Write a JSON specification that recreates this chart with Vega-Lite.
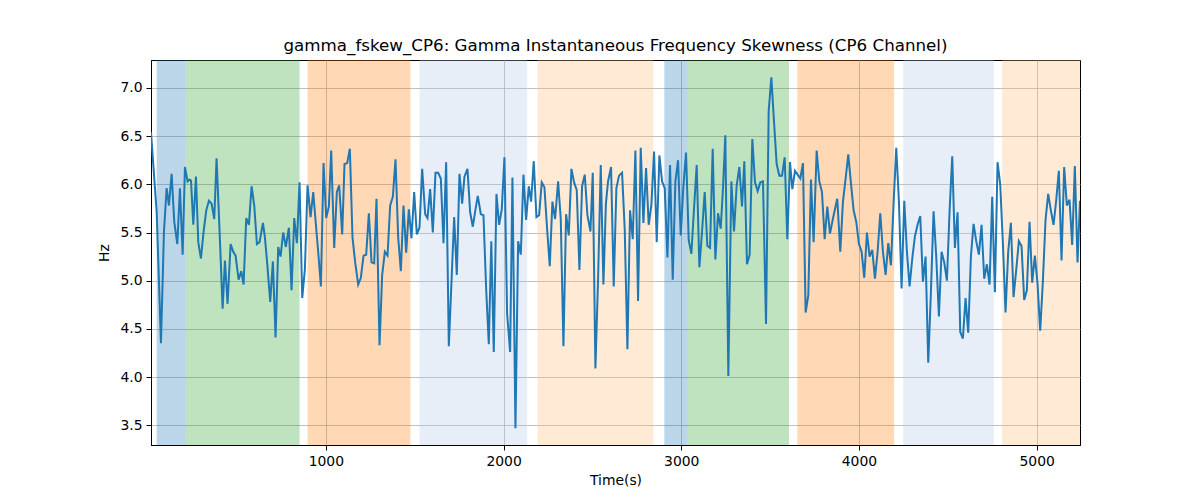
{
  "$schema": "https://vega.github.io/schema/vega-lite/v6.json",
  "width": 929,
  "height": 385,
  "autosize": {"type": "none"},
  "padding": {"left": 151, "top": 60, "right": 120, "bottom": 55},
  "background": "white",
  "title": {"text": "gamma_fskew_CP6: Gamma Instantaneous Frequency Skewness (CP6 Channel)", "font": "DejaVu Sans", "fontSize": 16.7, "fontWeight": "normal", "color": "black", "anchor": "middle", "offset": 5},
  "config": {
    "view": {"stroke": "black", "strokeWidth": 1},
    "axis": {"labelFont": "DejaVu Sans", "labelFontSize": 13.9, "labelColor": "black", "titleFont": "DejaVu Sans", "titleFontSize": 13.9, "titleFontWeight": "normal", "titleColor": "black", "tickColor": "black", "tickSize": 5, "domainColor": "black", "gridColor": "#b0b0b0", "gridWidth": 0.8, "labelPadding": 4}
  },
  "datasets": {
    "bands": [
      {"start": 48, "end": 211, "phase": "b"},
      {"start": 211, "end": 852, "phase": "g"},
      {"start": 897, "end": 1476, "phase": "o"},
      {"start": 1527, "end": 2133, "phase": "lb"},
      {"start": 2191, "end": 2843, "phase": "lo"},
      {"start": 2905, "end": 3036, "phase": "b"},
      {"start": 3036, "end": 3606, "phase": "g"},
      {"start": 3653, "end": 4198, "phase": "o"},
      {"start": 4249, "end": 4759, "phase": "lb"},
      {"start": 4806, "end": 5244, "phase": "lo"}
    ],
    "series": [
      {"t": 16, "hz": 6.54}, {"t": 48, "hz": 5.71}, {"t": 72, "hz": 4.35}, {"t": 89, "hz": 5.51}, {"t": 104, "hz": 5.96}, {"t": 117, "hz": 5.78}, {"t": 132, "hz": 6.11}, {"t": 147, "hz": 5.61}, {"t": 164, "hz": 5.38}, {"t": 179, "hz": 5.96}, {"t": 194, "hz": 5.27}, {"t": 207, "hz": 6.18}, {"t": 222, "hz": 6.03}, {"t": 233, "hz": 6.05}, {"t": 241, "hz": 6.04}, {"t": 254, "hz": 5.58}, {"t": 269, "hz": 6.08}, {"t": 282, "hz": 5.40}, {"t": 297, "hz": 5.23}, {"t": 312, "hz": 5.51}, {"t": 327, "hz": 5.73}, {"t": 342, "hz": 5.83}, {"t": 357, "hz": 5.80}, {"t": 372, "hz": 5.64}, {"t": 385, "hz": 6.27}, {"t": 402, "hz": 5.51}, {"t": 419, "hz": 4.71}, {"t": 432, "hz": 5.21}, {"t": 447, "hz": 4.76}, {"t": 464, "hz": 5.38}, {"t": 479, "hz": 5.30}, {"t": 492, "hz": 5.26}, {"t": 509, "hz": 5.01}, {"t": 524, "hz": 5.10}, {"t": 537, "hz": 4.96}, {"t": 552, "hz": 5.65}, {"t": 567, "hz": 5.58}, {"t": 582, "hz": 5.98}, {"t": 597, "hz": 5.78}, {"t": 612, "hz": 5.38}, {"t": 627, "hz": 5.40},
      {"t": 646, "hz": 5.60}, {"t": 657, "hz": 5.45}, {"t": 670, "hz": 5.18}, {"t": 687, "hz": 4.78}, {"t": 702, "hz": 5.20}, {"t": 717, "hz": 4.41}, {"t": 732, "hz": 5.35}, {"t": 745, "hz": 5.25}, {"t": 760, "hz": 5.50}, {"t": 775, "hz": 5.35}, {"t": 792, "hz": 5.55}, {"t": 807, "hz": 4.90}, {"t": 822, "hz": 5.65}, {"t": 837, "hz": 5.39}, {"t": 852, "hz": 6.02}, {"t": 867, "hz": 4.82}, {"t": 882, "hz": 5.12}, {"t": 897, "hz": 5.99}, {"t": 914, "hz": 5.66}, {"t": 929, "hz": 5.92}, {"t": 944, "hz": 5.58}, {"t": 957, "hz": 5.30}, {"t": 972, "hz": 4.94}, {"t": 987, "hz": 6.22}, {"t": 1002, "hz": 5.65}, {"t": 1017, "hz": 5.77}, {"t": 1030, "hz": 6.35}, {"t": 1047, "hz": 5.34}, {"t": 1062, "hz": 5.92}, {"t": 1075, "hz": 5.99}, {"t": 1092, "hz": 5.48}, {"t": 1105, "hz": 6.21}, {"t": 1120, "hz": 6.22}, {"t": 1135, "hz": 6.37}, {"t": 1150, "hz": 5.45}, {"t": 1165, "hz": 5.19}, {"t": 1182, "hz": 4.96}, {"t": 1197, "hz": 5.03}, {"t": 1212, "hz": 5.26}, {"t": 1227, "hz": 5.27}, {"t": 1242, "hz": 5.70}, {"t": 1257, "hz": 5.19}, {"t": 1272, "hz": 5.18},
      {"t": 1285, "hz": 5.85}, {"t": 1302, "hz": 4.33}, {"t": 1317, "hz": 5.06}, {"t": 1332, "hz": 5.30}, {"t": 1347, "hz": 5.26}, {"t": 1362, "hz": 5.78}, {"t": 1377, "hz": 5.87}, {"t": 1392, "hz": 6.26}, {"t": 1407, "hz": 5.45}, {"t": 1422, "hz": 5.10}, {"t": 1437, "hz": 5.78}, {"t": 1452, "hz": 5.29}, {"t": 1467, "hz": 5.74}, {"t": 1482, "hz": 5.44}, {"t": 1497, "hz": 5.92}, {"t": 1512, "hz": 5.48}, {"t": 1527, "hz": 5.55}, {"t": 1542, "hz": 6.16}, {"t": 1559, "hz": 5.69}, {"t": 1572, "hz": 5.65}, {"t": 1587, "hz": 5.95}, {"t": 1602, "hz": 5.50}, {"t": 1617, "hz": 6.12}, {"t": 1632, "hz": 6.12}, {"t": 1647, "hz": 6.06}, {"t": 1662, "hz": 5.39}, {"t": 1677, "hz": 6.23}, {"t": 1692, "hz": 4.32}, {"t": 1707, "hz": 4.99}, {"t": 1722, "hz": 5.66}, {"t": 1737, "hz": 5.06}, {"t": 1752, "hz": 6.11}, {"t": 1767, "hz": 5.80}, {"t": 1780, "hz": 6.08}, {"t": 1797, "hz": 6.16}, {"t": 1812, "hz": 5.71}, {"t": 1827, "hz": 5.56}, {"t": 1842, "hz": 5.74}, {"t": 1855, "hz": 5.88}, {"t": 1872, "hz": 5.69}, {"t": 1887, "hz": 5.68}, {"t": 1902, "hz": 4.92}, {"t": 1917, "hz": 4.34},
      {"t": 1931, "hz": 5.41}, {"t": 1945, "hz": 4.26}, {"t": 1960, "hz": 5.90}, {"t": 1975, "hz": 5.58}, {"t": 1990, "hz": 5.74}, {"t": 2005, "hz": 6.28}, {"t": 2020, "hz": 4.66}, {"t": 2037, "hz": 4.26}, {"t": 2050, "hz": 6.07}, {"t": 2067, "hz": 3.47}, {"t": 2082, "hz": 5.41}, {"t": 2097, "hz": 5.27}, {"t": 2112, "hz": 6.10}, {"t": 2127, "hz": 5.63}, {"t": 2142, "hz": 5.98}, {"t": 2155, "hz": 5.82}, {"t": 2170, "hz": 6.24}, {"t": 2185, "hz": 5.66}, {"t": 2200, "hz": 5.68}, {"t": 2215, "hz": 6.02}, {"t": 2230, "hz": 5.97}, {"t": 2245, "hz": 5.54}, {"t": 2260, "hz": 5.15}, {"t": 2275, "hz": 5.82}, {"t": 2290, "hz": 5.64}, {"t": 2307, "hz": 6.03}, {"t": 2322, "hz": 5.64}, {"t": 2337, "hz": 4.32}, {"t": 2352, "hz": 5.69}, {"t": 2367, "hz": 5.47}, {"t": 2382, "hz": 6.16}, {"t": 2397, "hz": 6.02}, {"t": 2412, "hz": 5.94}, {"t": 2427, "hz": 5.11}, {"t": 2442, "hz": 5.98}, {"t": 2457, "hz": 6.10}, {"t": 2472, "hz": 5.68}, {"t": 2489, "hz": 5.51}, {"t": 2502, "hz": 6.12}, {"t": 2517, "hz": 4.09}, {"t": 2532, "hz": 5.02}, {"t": 2547, "hz": 6.20}, {"t": 2562, "hz": 4.96},
      {"t": 2576, "hz": 5.80}, {"t": 2588, "hz": 6.03}, {"t": 2605, "hz": 6.18}, {"t": 2620, "hz": 4.94}, {"t": 2635, "hz": 5.96}, {"t": 2650, "hz": 6.09}, {"t": 2667, "hz": 6.12}, {"t": 2682, "hz": 5.53}, {"t": 2697, "hz": 4.29}, {"t": 2712, "hz": 5.73}, {"t": 2727, "hz": 5.43}, {"t": 2742, "hz": 6.35}, {"t": 2757, "hz": 4.79}, {"t": 2772, "hz": 6.38}, {"t": 2787, "hz": 5.60}, {"t": 2802, "hz": 6.17}, {"t": 2817, "hz": 5.58}, {"t": 2832, "hz": 5.79}, {"t": 2847, "hz": 6.34}, {"t": 2862, "hz": 5.40}, {"t": 2877, "hz": 6.30}, {"t": 2892, "hz": 6.03}, {"t": 2907, "hz": 5.96}, {"t": 2922, "hz": 5.24}, {"t": 2937, "hz": 6.20}, {"t": 2952, "hz": 5.01}, {"t": 2967, "hz": 6.03}, {"t": 2982, "hz": 6.25}, {"t": 2997, "hz": 5.47}, {"t": 3012, "hz": 5.98}, {"t": 3027, "hz": 6.33}, {"t": 3042, "hz": 5.42}, {"t": 3057, "hz": 5.28}, {"t": 3072, "hz": 5.75}, {"t": 3087, "hz": 6.20}, {"t": 3102, "hz": 5.14}, {"t": 3117, "hz": 5.51}, {"t": 3132, "hz": 5.92}, {"t": 3147, "hz": 5.36}, {"t": 3162, "hz": 5.34}, {"t": 3177, "hz": 6.37}, {"t": 3192, "hz": 5.22}, {"t": 3207, "hz": 5.70}, {"t": 3222, "hz": 5.54},
      {"t": 3235, "hz": 5.96}, {"t": 3248, "hz": 6.51}, {"t": 3265, "hz": 4.01}, {"t": 3282, "hz": 6.03}, {"t": 3297, "hz": 5.51}, {"t": 3312, "hz": 5.99}, {"t": 3327, "hz": 6.18}, {"t": 3342, "hz": 5.77}, {"t": 3355, "hz": 6.24}, {"t": 3370, "hz": 5.17}, {"t": 3385, "hz": 5.27}, {"t": 3400, "hz": 6.47}, {"t": 3415, "hz": 6.02}, {"t": 3430, "hz": 5.93}, {"t": 3445, "hz": 6.02}, {"t": 3460, "hz": 6.03}, {"t": 3477, "hz": 4.55}, {"t": 3492, "hz": 6.76}, {"t": 3507, "hz": 7.11}, {"t": 3522, "hz": 6.65}, {"t": 3537, "hz": 6.21}, {"t": 3552, "hz": 6.09}, {"t": 3567, "hz": 6.09}, {"t": 3582, "hz": 6.28}, {"t": 3597, "hz": 5.43}, {"t": 3612, "hz": 6.23}, {"t": 3625, "hz": 5.95}, {"t": 3640, "hz": 6.14}, {"t": 3655, "hz": 6.10}, {"t": 3670, "hz": 6.06}, {"t": 3685, "hz": 6.22}, {"t": 3700, "hz": 4.67}, {"t": 3715, "hz": 4.85}, {"t": 3730, "hz": 6.05}, {"t": 3745, "hz": 5.40}, {"t": 3762, "hz": 6.35}, {"t": 3777, "hz": 6.03}, {"t": 3792, "hz": 5.92}, {"t": 3807, "hz": 5.43}, {"t": 3822, "hz": 5.77}, {"t": 3837, "hz": 5.49}, {"t": 3852, "hz": 5.63}, {"t": 3867, "hz": 5.76},
      {"t": 3878, "hz": 5.85}, {"t": 3895, "hz": 5.30}, {"t": 3910, "hz": 5.82}, {"t": 3925, "hz": 6.06}, {"t": 3940, "hz": 6.31}, {"t": 3955, "hz": 6.01}, {"t": 3970, "hz": 5.73}, {"t": 3985, "hz": 5.61}, {"t": 4000, "hz": 5.38}, {"t": 4015, "hz": 5.30}, {"t": 4030, "hz": 5.03}, {"t": 4045, "hz": 5.50}, {"t": 4060, "hz": 5.25}, {"t": 4075, "hz": 5.32}, {"t": 4090, "hz": 5.02}, {"t": 4105, "hz": 5.30}, {"t": 4120, "hz": 5.70}, {"t": 4135, "hz": 5.30}, {"t": 4150, "hz": 5.06}, {"t": 4165, "hz": 5.39}, {"t": 4180, "hz": 5.16}, {"t": 4195, "hz": 5.80}, {"t": 4210, "hz": 6.38}, {"t": 4225, "hz": 5.82}, {"t": 4240, "hz": 4.92}, {"t": 4255, "hz": 5.83}, {"t": 4270, "hz": 5.30}, {"t": 4285, "hz": 4.94}, {"t": 4300, "hz": 5.23}, {"t": 4315, "hz": 5.46}, {"t": 4330, "hz": 5.58}, {"t": 4345, "hz": 5.67}, {"t": 4360, "hz": 4.99}, {"t": 4375, "hz": 5.25}, {"t": 4390, "hz": 4.15}, {"t": 4405, "hz": 4.88}, {"t": 4420, "hz": 5.72}, {"t": 4435, "hz": 5.25}, {"t": 4450, "hz": 4.63}, {"t": 4465, "hz": 5.30}, {"t": 4480, "hz": 5.19}, {"t": 4495, "hz": 5.00}, {"t": 4510, "hz": 5.72},
      {"t": 4525, "hz": 6.29}, {"t": 4540, "hz": 5.34}, {"t": 4555, "hz": 5.71}, {"t": 4570, "hz": 4.47}, {"t": 4585, "hz": 4.40}, {"t": 4600, "hz": 4.82}, {"t": 4615, "hz": 4.46}, {"t": 4630, "hz": 5.25}, {"t": 4645, "hz": 5.59}, {"t": 4660, "hz": 5.41}, {"t": 4675, "hz": 5.27}, {"t": 4690, "hz": 5.58}, {"t": 4705, "hz": 5.02}, {"t": 4720, "hz": 5.17}, {"t": 4735, "hz": 4.96}, {"t": 4750, "hz": 5.87}, {"t": 4765, "hz": 4.88}, {"t": 4780, "hz": 6.23}, {"t": 4795, "hz": 6.00}, {"t": 4810, "hz": 5.39}, {"t": 4825, "hz": 4.67}, {"t": 4840, "hz": 5.30}, {"t": 4855, "hz": 5.60}, {"t": 4870, "hz": 4.83}, {"t": 4885, "hz": 5.11}, {"t": 4900, "hz": 5.41}, {"t": 4915, "hz": 5.36}, {"t": 4930, "hz": 4.80}, {"t": 4945, "hz": 4.90}, {"t": 4960, "hz": 5.61}, {"t": 4975, "hz": 4.98}, {"t": 4990, "hz": 5.26}, {"t": 5005, "hz": 4.97}, {"t": 5020, "hz": 4.48}, {"t": 5035, "hz": 4.99}, {"t": 5050, "hz": 5.63}, {"t": 5065, "hz": 5.90}, {"t": 5080, "hz": 5.73}, {"t": 5095, "hz": 5.58}, {"t": 5110, "hz": 5.83}, {"t": 5125, "hz": 6.14}, {"t": 5140, "hz": 5.21}, {"t": 5155, "hz": 6.18}, {"t": 5170, "hz": 5.78}, {"t": 5185, "hz": 5.84}, {"t": 5200, "hz": 5.37}, {"t": 5215, "hz": 6.19}, {"t": 5230, "hz": 5.19}, {"t": 5244, "hz": 5.83}
    ]
  },
  "layer": [
    {
      "data": {"name": "bands"},
      "mark": {"type": "rect", "opacity": 0.3},
      "encoding": {
        "x": {"field": "start", "type": "quantitative", "scale": {"domain": [16, 5244], "nice": false, "zero": false},
              "axis": {"title": "Time(s)", "values": [1000, 2000, 3000, 4000, 5000], "format": "d", "grid": true, "titlePadding": 6}},
        "x2": {"field": "end"},
        "color": {"field": "phase", "type": "nominal", "legend": null,
                  "scale": {"domain": ["b", "g", "o", "lb", "lo"], "range": ["#1f77b4", "#2ca02c", "#ff7f0e", "#aec7e8", "#ffbb78"]}}
      }
    },
    {
      "data": {"name": "series"},
      "mark": {"type": "line", "color": "#1f77b4", "strokeWidth": 2, "clip": true},
      "encoding": {
        "x": {"field": "t", "type": "quantitative"},
        "y": {"field": "hz", "type": "quantitative", "scale": {"domain": [3.295, 7.29], "nice": false, "zero": false},
              "axis": {"title": "Hz", "values": [3.5, 4.0, 4.5, 5.0, 5.5, 6.0, 6.5, 7.0], "format": ".1f", "grid": true, "titlePadding": 8}}
      }
    }
  ]
}
